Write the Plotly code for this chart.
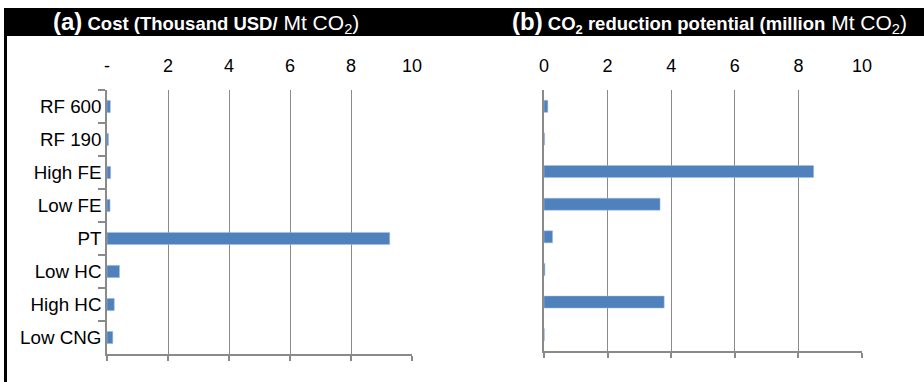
import plotly.graph_objects as go

categories = ["RF 600", "RF 190", "High FE", "Low FE", "PT", "Low HC", "High HC", "Low CNG"]
cost_values = [0.11, 0.05, 0.12, 0.10, 9.27, 0.41, 0.24, 0.19]
reduction_values = [0.12, 0.02, 8.48, 3.65, 0.27, 0.03, 3.78, 0.01]
tick_vals = [0, 2, 4, 6, 8, 10]
cost_tick_text = ["-", "2", "4", "6", "8", "10"]
red_tick_text = ["0", "2", "4", "6", "8", "10"]

BAR = "#4F81BD"
GRID = "#8A8A8A"
FONT = "Liberation Sans, Arial, Helvetica, sans-serif"

fig = go.Figure()
fig.add_trace(go.Bar(x=cost_values, y=categories, orientation="h", xaxis="x", yaxis="y",
                     marker=dict(color=BAR, line=dict(color="#A9C1E0", width=0.5)),
                     width=0.37, showlegend=False))
fig.add_trace(go.Bar(x=reduction_values, y=categories, orientation="h", xaxis="x2", yaxis="y2",
                     marker=dict(color=BAR, line=dict(color="#A9C1E0", width=0.5)),
                     width=0.37, showlegend=False))
# helper traces so the top label axes are drawn
fig.add_trace(go.Scatter(x=[None], y=[None], xaxis="x3", yaxis="y", showlegend=False, hoverinfo="skip"))
fig.add_trace(go.Scatter(x=[None], y=[None], xaxis="x4", yaxis="y2", showlegend=False, hoverinfo="skip"))

L, R, T, B = 107, 62, 90, 28
W, H = 924, 382
pw = W - L - R
ph = H - T - B

def px_x(p):
    return (p - L) / pw

def px_y(p):
    return 1 + (T - p) / ph

d1 = [0, px_x(412)]
d2 = [px_x(544), 1]

bottom_axis = dict(range=[0, 10], tickvals=tick_vals, showticklabels=False, ticks="outside",
                   ticklen=5, tickcolor=GRID, tickwidth=1.5, showline=True, linecolor=GRID, linewidth=1.5,
                   showgrid=True, gridcolor=GRID, gridwidth=1.2, zeroline=False, fixedrange=True,
                   automargin=False)
top_axis = dict(range=[0, 10], tickvals=tick_vals, side="top", showline=False, ticks="",
                showgrid=False, zeroline=False, ticklabelstandoff=13, automargin=False,
                tickfont=dict(family=FONT, size=18, color="#000"))

fig.update_layout(
    width=W, height=H,
    margin=dict(l=L, r=R, t=T, b=B),
    paper_bgcolor="white", plot_bgcolor="white",
    font=dict(family=FONT, size=17, color="#000"),
    xaxis=dict(domain=d1, anchor="y", **bottom_axis),
    xaxis2=dict(domain=d2, anchor="y2", **bottom_axis),
    xaxis3=dict(overlaying="x", anchor="y", ticktext=cost_tick_text, **top_axis),
    xaxis4=dict(overlaying="x2", anchor="y2", ticktext=red_tick_text, **top_axis),
    yaxis=dict(domain=[0, 1], anchor="x", categoryorder="array", categoryarray=categories,
               autorange="reversed", showline=True, linecolor=GRID, linewidth=1.5,
               ticks="outside", tickson="boundaries", ticklen=7, tickcolor=GRID, tickwidth=1.5,
               showgrid=False, zeroline=False, automargin=False,
               tickfont=dict(family=FONT, size=18.8, color="#000")),
    yaxis2=dict(domain=[3 / ph, 1], anchor="x2", categoryorder="array", categoryarray=categories,
                autorange="reversed", showline=True, linecolor=GRID, linewidth=1.5,
                ticks="", showticklabels=False, showgrid=False, zeroline=False, automargin=False),
)

# black title band and left border
fig.add_shape(type="rect", xref="paper", yref="paper", x0=px_x(4), x1=px_x(W + 2),
              y0=px_y(36), y1=px_y(8), fillcolor="black", line=dict(width=0), layer="above")
fig.add_shape(type="line", xref="paper", yref="paper", x0=px_x(5.5), x1=px_x(5.5),
              y0=px_y(36), y1=px_y(H + 2), line=dict(color="black", width=3))

fig.add_annotation(xref="paper", yref="paper", x=px_x(206), y=px_y(22), showarrow=False,
                   xanchor="center", yanchor="middle",
                   text='<span style="font-size:24px"><b>(a)</b></span><b> Cost (Thousand USD/</b>'
                        '<span style="font-size:21px"> Mt CO<sub>2</sub>)</span>',
                   font=dict(family=FONT, size=18.5, color="white"))
fig.add_annotation(xref="paper", yref="paper", x=px_x(709), y=px_y(22), showarrow=False,
                   xanchor="center", yanchor="middle",
                   text='<span style="font-size:24px"><b>(b)</b></span><b> CO<sub>2</sub> reduction potential (million</b>'
                        '<span style="font-size:21px"> Mt CO<sub>2</sub>)</span>',
                   font=dict(family=FONT, size=18.5, color="white"))

fig.write_html("out.html", config={"displayModeBar": False},
               post_script="document.body.style.margin='0px';document.body.style.overflow='hidden';")
